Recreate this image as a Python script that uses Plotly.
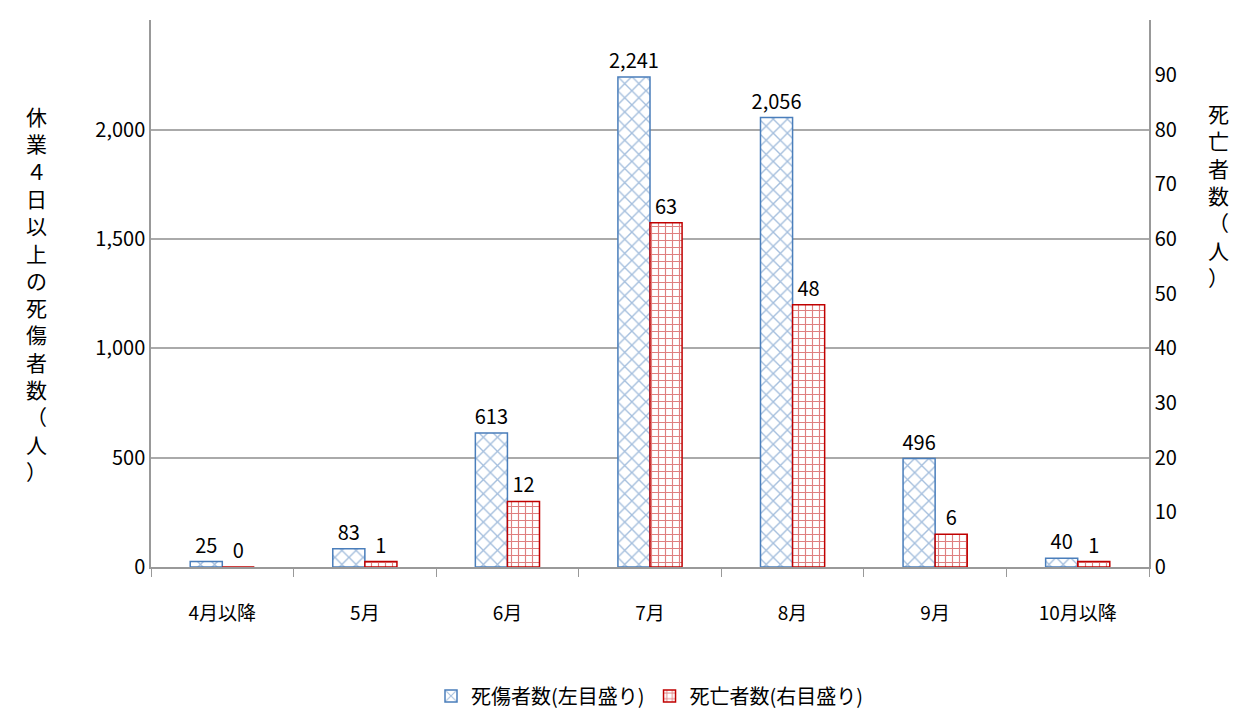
import plotly.graph_objects as go

cats = ["4月以降", "5月", "6月", "7月", "8月", "9月", "10月以降"]
injured = [25, 83, 613, 2241, 2056, 496, 40]
deaths = [0, 1, 12, 63, 48, 6, 1]
name_inj = "死傷者数(左目盛り)"
name_dth = "死亡者数(右目盛り)"

F = "Noto Sans CJK JP"
fig = go.Figure()
fig.add_trace(go.Bar(
    x=cats, y=injured, name=name_inj, yaxis="y", offsetgroup="a",
    marker=dict(color="white", line=dict(color="#4a7ebb", width=1.5),
                pattern=dict(shape="x", fgcolor="#4a7ebb", bgcolor="white", size=10, solidity=0.25)),
    text=[f"{v:,}" for v in injured], textposition="outside", cliponaxis=False,
    constraintext="none", textfont=dict(size=20, color="black", family=F)))
fig.add_trace(go.Bar(
    x=cats, y=deaths, name=name_dth, yaxis="y2", offsetgroup="b",
    marker=dict(color="white", line=dict(color="#c00000", width=1.5),
                pattern=dict(shape="+", fgcolor="#c00000", bgcolor="white", size=7, solidity=0.3)),
    text=[str(v) for v in deaths], textposition="outside", cliponaxis=False,
    constraintext="none", textfont=dict(size=20, color="black", family=F)))

fig.update_layout(
    width=1242, height=720, plot_bgcolor="white", paper_bgcolor="white",
    margin=dict(l=143, r=101, t=12, b=136),
    font=dict(family=F, size=18, color="black"),
    barmode="group", bargap=0.55, bargroupgap=0,
    uniformtext=dict(minsize=20, mode="show"),
    xaxis=dict(type="category", tickson="boundaries", ticks="outside", ticklen=8,
               tickcolor="#999", showline=True, linecolor="#999", linewidth=1.5,
               tickfont=dict(size=19), showgrid=False, ticklabelstandoff=28),
    yaxis=dict(range=[0, 2502], tickvals=[0, 500, 1000, 1500, 2000, 2500], tickformat=",",
               showgrid=True, gridcolor="#aaa",
               gridwidth=1.5, showline=True, linecolor="#999", linewidth=1.5, zeroline=False,
               tickfont=dict(size=20)),
    yaxis2=dict(range=[0, 100.08], tickvals=list(range(0, 101, 10)), overlaying="y", side="right",
                showgrid=False, showline=True, linecolor="#999", linewidth=1.5, zeroline=False,
                tickfont=dict(size=20)),
    legend=dict(orientation="h", x=0.5, xanchor="center", y=-0.2, yanchor="top",
                font=dict(size=20), itemwidth=30),
    showlegend=True,
)
left_title = "休業４日以上の死傷者数（人）"
right_title = "死亡者数（人）"
fig.add_annotation(text="<br>".join(left_title), xref="paper", yref="paper", x=-0.115, y=0.5,
                   showarrow=False, font=dict(size=21), xanchor="center", yanchor="middle")
fig.add_annotation(text="<br>".join(right_title), xref="paper", yref="paper", x=1.07, y=0.68,
                   showarrow=False, font=dict(size=21), xanchor="center", yanchor="middle")
fig.write_html("out.html")
